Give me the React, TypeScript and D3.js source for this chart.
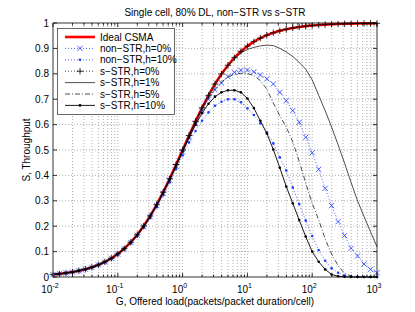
import { useEffect, useRef } from "react";
import * as d3 from "d3";

// offered load G, one point every 0.1 decade from 1e-2 to 1e3
const loadG = [
  0.01, 0.01259, 0.01585, 0.01995, 0.02512, 0.03162, 0.03981, 0.05012, 0.0631, 0.07943,
  0.1, 0.1259, 0.1585, 0.1995, 0.2512, 0.3162, 0.3981, 0.5012, 0.631, 0.7943,
  1, 1.259, 1.585, 1.995, 2.512, 3.162, 3.981, 5.012, 6.31, 7.943,
  10, 12.59, 15.85, 19.95, 25.12, 31.62, 39.81, 50.12, 63.1, 79.43,
  100, 125.9, 158.5, 199.5, 251.2, 316.2, 398.1, 501.2, 631, 794.3, 1000,
];

const idealCsma = [
  0.0099, 0.0124, 0.0156, 0.0196, 0.0245, 0.0307, 0.0383, 0.0477, 0.0594, 0.0736,
  0.0909, 0.1118, 0.1368, 0.1663, 0.2008, 0.2403, 0.2847, 0.3338, 0.3869, 0.4427,
  0.5, 0.5573, 0.6131, 0.6661, 0.7153, 0.7597, 0.7993, 0.8337, 0.8632, 0.8882,
  0.9091, 0.9264, 0.9406, 0.9523, 0.9617, 0.9693, 0.9755, 0.9804, 0.9844, 0.9876,
  0.9901, 0.9921, 0.9937, 0.995, 0.996, 0.9968, 0.9975, 0.998, 0.9984, 0.9987, 0.999,
];

const nonStrH0 = [
  0.0099, 0.0124, 0.0155, 0.0195, 0.0244, 0.0305, 0.0381, 0.0475, 0.059, 0.0731,
  0.0902, 0.1108, 0.1355, 0.1646, 0.1985, 0.2375, 0.2812, 0.3295, 0.3815, 0.436,
  0.492, 0.548, 0.603, 0.655, 0.7, 0.737, 0.764, 0.789, 0.806, 0.814,
  0.815, 0.808, 0.795, 0.78, 0.76, 0.727, 0.694, 0.655, 0.609, 0.55,
  0.489, 0.424, 0.349, 0.281, 0.218, 0.163, 0.113, 0.083, 0.051, 0.03, 0.017,
];

const nonStrH10 = [
  0.0098, 0.0123, 0.0154, 0.0193, 0.0241, 0.0302, 0.0376, 0.0468, 0.0582, 0.072,
  0.0888, 0.109, 0.133, 0.1615, 0.1945, 0.2325, 0.275, 0.322, 0.372, 0.425,
  0.479, 0.53, 0.575, 0.615, 0.648, 0.674, 0.69, 0.7, 0.7, 0.688,
  0.664, 0.638, 0.605, 0.57, 0.526, 0.471, 0.419, 0.352, 0.287, 0.222,
  0.161, 0.106, 0.064, 0.034, 0.017, 0.006, 0.002, 0.0005, 0, 0, 0,
];

const sStrH0 = [
  0.0099, 0.0124, 0.0156, 0.0196, 0.0245, 0.0307, 0.0383, 0.0477, 0.0594, 0.0736,
  0.0909, 0.1118, 0.1368, 0.1663, 0.2008, 0.2403, 0.2847, 0.3338, 0.3869, 0.4427,
  0.5, 0.5573, 0.6131, 0.6661, 0.7153, 0.7597, 0.7993, 0.8337, 0.8632, 0.8882,
  0.9091, 0.9264, 0.9406, 0.9523, 0.9617, 0.9693, 0.9755, 0.9804, 0.9844, 0.9876,
  0.9901, 0.9921, 0.9937, 0.995, 0.996, 0.9968, 0.9975, 0.998, 0.9984, 0.9987, 0.999,
];

const sStrH1 = [
  0.0099, 0.0124, 0.0156, 0.0196, 0.0245, 0.0307, 0.0383, 0.0477, 0.0594, 0.0736,
  0.0909, 0.1118, 0.1368, 0.1663, 0.2008, 0.2403, 0.2847, 0.3338, 0.3869, 0.4427,
  0.5, 0.5573, 0.6131, 0.666, 0.715, 0.759, 0.798, 0.831, 0.86, 0.882,
  0.896, 0.904, 0.91, 0.913, 0.911, 0.9, 0.886, 0.868, 0.845, 0.818,
  0.776, 0.715, 0.655, 0.59, 0.52, 0.448, 0.372, 0.3, 0.238, 0.178, 0.119,
];

const sStrH5 = [
  0.0099, 0.0124, 0.0156, 0.0196, 0.0245, 0.0307, 0.0383, 0.0476, 0.0592, 0.0734,
  0.0906, 0.1114, 0.1363, 0.1657, 0.2, 0.2393, 0.2835, 0.3323, 0.385, 0.4405,
  0.4975, 0.556, 0.611, 0.662, 0.706, 0.742, 0.768, 0.787, 0.798, 0.802,
  0.801, 0.793, 0.773, 0.74, 0.685, 0.635, 0.59, 0.532, 0.455, 0.37,
  0.29, 0.225, 0.15, 0.09, 0.045, 0.014, 0.003, 0, 0, 0, 0,
];

const sStrH10 = [
  0.0099, 0.0124, 0.0156, 0.0196, 0.0245, 0.0307, 0.0383, 0.0477, 0.0593, 0.0735,
  0.0907, 0.1115, 0.1363, 0.1655, 0.1995, 0.2385, 0.2825, 0.331, 0.383, 0.4375,
  0.493, 0.548, 0.599, 0.645, 0.682, 0.71, 0.727, 0.735, 0.735, 0.727,
  0.703, 0.665, 0.615, 0.565, 0.502, 0.43, 0.356, 0.29, 0.224, 0.159,
  0.1, 0.06, 0.03, 0.01, 0.003, 0.0005, 0, 0, 0, 0, 0,
];

const yTicks = [0, 0.1, 0.2, 0.3, 0.4, 0.5, 0.6, 0.7, 0.8, 0.9, 1];
const yTickLabels = ["0", "0.1", "0.2", "0.3", "0.4", "0.5", "0.6", "0.7", "0.8", "0.9", "1"];
const xDecades = [-2, -1, 0, 1, 2, 3];

const BLUE = "#1f3dff";
const FONT = "'Liberation Sans', Arial, Helvetica, sans-serif";

type Marker = "none" | "x" | "dot" | "plus";
interface SeriesDef {
  name: string;
  values: number[];
  color: string;
  width: number;
  dash: string | null;
  marker: Marker;
}

const series: SeriesDef[] = [
  { name: "Ideal CSMA", values: idealCsma, color: "#ff0000", width: 2.6, dash: null, marker: "none" },
  { name: "non−STR,h=0%", values: nonStrH0, color: BLUE, width: 0.8, dash: "1,2", marker: "x" },
  { name: "non−STR,h=10%", values: nonStrH10, color: BLUE, width: 0.8, dash: "1,2", marker: "dot" },
  { name: "s−STR,h=0%", values: sStrH0, color: "#000", width: 0.7, dash: "1,2", marker: "plus" },
  { name: "s−STR,h=1%", values: sStrH1, color: "#222", width: 0.8, dash: null, marker: "none" },
  { name: "s−STR,h=5%", values: sStrH5, color: "#000", width: 0.7, dash: "5,2,1,2", marker: "none" },
  { name: "s−STR,h=10%", values: sStrH10, color: "#000", width: 0.9, dash: null, marker: "dot" },
];

const W = 415;
const H = 312;
const left = 53, right = 377, top = 23, bottom = 277;

function drawMarker(g: d3.Selection<SVGGElement, unknown, null, undefined>, kind: Marker, x: number, y: number, color: string) {
  if (kind === "x") {
    const s = 2.6;
    g.append("path").attr("d", `M${x - s},${y - s}L${x + s},${y + s}M${x - s},${y + s}L${x + s},${y - s}`)
      .attr("stroke", color).attr("stroke-width", 0.8).attr("fill", "none");
  } else if (kind === "plus") {
    const s = 3.2;
    g.append("path").attr("d", `M${x - s},${y}L${x + s},${y}M${x},${y - s}L${x},${y + s}`)
      .attr("stroke", color).attr("stroke-width", 0.8).attr("fill", "none");
  } else if (kind === "dot") {
    g.append("circle").attr("cx", x).attr("cy", y).attr("r", 1.3).attr("fill", color);
  }
}

export default function App() {
  const svgRef = useRef<SVGSVGElement | null>(null);

  useEffect(() => {
    if (!svgRef.current) return;
    const svg = d3.select(svgRef.current);
    svg.selectAll("*").remove();

    const x = d3.scaleLog().domain([1e-2, 1e3]).range([left, right]);
    const y = d3.scaleLinear().domain([0, 1]).range([bottom, top]);

    svg.append("rect").attr("width", W).attr("height", H).attr("fill", "#fff");
    svg.append("rect").attr("x", left).attr("y", top).attr("width", right - left).attr("height", bottom - top).attr("fill", "#fff");

    // grid, major and minor on the log axis
    const grid = svg.append("g").attr("stroke", "#9a9a9a").attr("stroke-width", 0.8).attr("stroke-dasharray", "1,2");
    const xGrid = x.ticks(50).filter(v => v > 1e-2 && v < 1e3);
    xGrid.forEach(v => {
      grid.append("line").attr("x1", x(v)).attr("x2", x(v)).attr("y1", top).attr("y2", bottom);
    });
    yTicks.slice(1, -1).forEach(v => {
      grid.append("line").attr("x1", left).attr("x2", right).attr("y1", y(v)).attr("y2", y(v));
    });

    // curves
    const plot = svg.append("g");
    series.forEach(s => {
      const pts: [number, number][] = s.values.map((v, i) => [x(loadG[i]), y(v)]);
      plot.append("path")
        .attr("d", d3.line()(pts))
        .attr("fill", "none")
        .attr("stroke", s.color)
        .attr("stroke-width", s.width)
        .attr("stroke-dasharray", s.dash ?? null);
      if (s.marker !== "none") {
        const mg = plot.append("g");
        pts.forEach(([px, py]) => drawMarker(mg, s.marker, px, py, s.color));
      }
    });

    // axes box and inward ticks
    const ax = svg.append("g").attr("stroke", "#000").attr("stroke-width", 0.8).attr("fill", "none");
    ax.append("line").attr("x1", left).attr("x2", right).attr("y1", top).attr("y2", top);
    ax.append("line").attr("x1", left).attr("x2", right).attr("y1", bottom).attr("y2", bottom);
    ax.append("line").attr("x1", right).attr("x2", right).attr("y1", top).attr("y2", bottom);
    ax.append("line").attr("x1", left).attr("x2", left).attr("y1", top).attr("y2", bottom)
      .attr("stroke", "#808080").attr("stroke-width", 1.6);

    x.ticks(50).forEach(v => {
      const major = xDecades.some(d => Math.abs(Math.log10(v) - d) < 1e-9);
      const len = major ? 4 : 2.5;
      ax.append("line").attr("x1", x(v)).attr("x2", x(v)).attr("y1", bottom).attr("y2", bottom - len);
      ax.append("line").attr("x1", x(v)).attr("x2", x(v)).attr("y1", top).attr("y2", top + len);
    });
    yTicks.forEach(v => {
      ax.append("line").attr("x1", left).attr("x2", left + 4).attr("y1", y(v)).attr("y2", y(v));
      ax.append("line").attr("x1", right).attr("x2", right - 4).attr("y1", y(v)).attr("y2", y(v));
    });

    // tick labels
    const txt = svg.append("g").attr("font-family", FONT).attr("fill", "#000");
    yTicks.forEach((v, i) => {
      txt.append("text").attr("x", left - 4).attr("y", y(v)).attr("dy", "0.35em")
        .attr("text-anchor", "end").attr("font-size", 10).text(yTickLabels[i]);
    });
    xDecades.forEach(d => {
      const t = txt.append("text").attr("x", x(Math.pow(10, d)) - 3).attr("y", 293)
        .attr("text-anchor", "middle").attr("font-size", 10);
      t.append("tspan").text("10");
      t.append("tspan").attr("dy", -5).attr("font-size", 7).text(String(d));
    });

    txt.append("text").attr("x", 215).attr("y", 16).attr("text-anchor", "middle").attr("font-size", 10)
      .text("Single cell, 80% DL, non−STR vs s−STR");
    txt.append("text").attr("x", 215).attr("y", 305).attr("text-anchor", "middle").attr("font-size", 10)
      .text("G, Offered load(packets/packet duration/cell)");
    txt.append("text").attr("transform", `translate(30,${(top + bottom) / 2}) rotate(-90)`)
      .attr("text-anchor", "middle").attr("font-size", 10).text("S, Throughput");

    // legend
    const lg = svg.append("g");
    lg.append("rect").attr("x", 57.5).attr("y", 28.5).attr("width", 117).attr("height", 86)
      .attr("fill", "#fff").attr("stroke", "#444").attr("stroke-width", 0.8);
    series.forEach((s, i) => {
      const ry = 37 + i * 11.4;
      lg.append("line").attr("x1", 65).attr("x2", 95).attr("y1", ry).attr("y2", ry)
        .attr("stroke", s.color).attr("stroke-width", s.width)
        .attr("stroke-dasharray", s.dash ?? null);
      if (s.marker !== "none") drawMarker(lg, s.marker, 80, ry, s.color);
      lg.append("text").attr("x", 100).attr("y", ry).attr("dy", "0.35em")
        .attr("font-family", FONT).attr("font-size", 10).text(s.name);
    });
  }, []);

  return <svg ref={svgRef} width={W} height={H} style={{ position: "absolute", left: 0, top: 0 }} />;
}
